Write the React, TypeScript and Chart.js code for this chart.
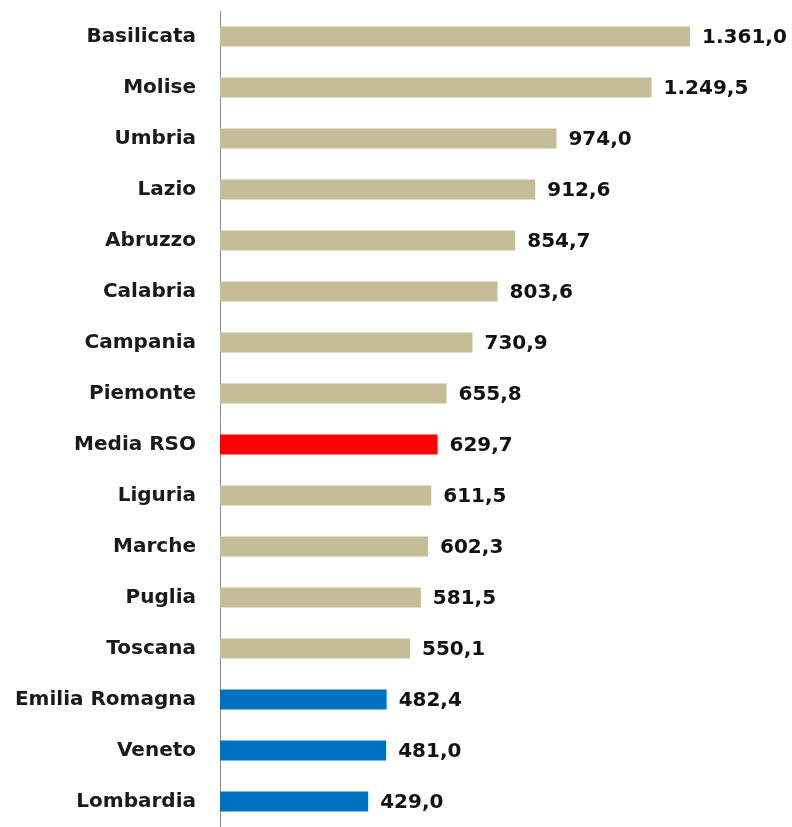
import React, { useEffect, useRef } from "react";
import { Chart, registerables } from "chart.js";

Chart.register(...registerables);

const categories = [
  "Basilicata", "Molise", "Umbria", "Lazio", "Abruzzo", "Calabria", "Campania",
  "Piemonte", "Media RSO", "Liguria", "Marche", "Puglia", "Toscana",
  "Emilia Romagna", "Veneto", "Lombardia",
];
const values = [
  1361.0, 1249.5, 974.0, 912.6, 854.7, 803.6, 730.9, 655.8, 629.7, 611.5,
  602.3, 581.5, 550.1, 482.4, 481.0, 429.0,
];
const groups = [
  "base", "base", "base", "base", "base", "base", "base", "base", "media",
  "base", "base", "base", "base", "low", "low", "low",
];
const groupColors: Record<string, string> = {
  base: "#C4BD97",
  media: "#FF0000",
  low: "#0070C0",
};

function fmt(v: number): string {
  const s = v.toFixed(1);
  const [intPart, dec] = s.split(".");
  const withDots = intPart.replace(/\B(?=(\d{3})+(?!\d))/g, ".");
  return withDots + "," + dec;
}

const FONT = "'DejaVu Sans', Verdana, sans-serif";

const valueLabels = {
  id: "valueLabels",
  afterDatasetsDraw(chart: any) {
    const ctx = chart.ctx;
    const meta = chart.getDatasetMeta(0);
    ctx.save();
    ctx.font = "bold 20px " + FONT;
    ctx.fillStyle = "#111";
    ctx.textAlign = "left";
    ctx.textBaseline = "middle";
    meta.data.forEach((bar: any, i: number) => {
      ctx.fillText(fmt(values[i]), bar.x + 12, bar.y + 1);
    });
    ctx.restore();
  },
};

export default function App() {
  const ref = useRef<HTMLCanvasElement | null>(null);
  useEffect(() => {
    document.body.style.margin = "0";
    const chart = new Chart(ref.current as HTMLCanvasElement, {
      type: "bar",
      data: {
        labels: categories,
        datasets: [
          {
            data: values,
            backgroundColor: groups.map((g) => groupColors[g]),
            barPercentage: 0.8,
            categoryPercentage: 0.49,
          },
        ],
      },
      options: {
        indexAxis: "y",
        animation: false,
        responsive: false,
        maintainAspectRatio: false,
        layout: { padding: { top: 11, bottom: 0, right: 0, left: 0 } },
        plugins: { legend: { display: false }, tooltip: { enabled: false } },
        scales: {
          x: {
            display: false,
            min: 0,
            max: 1656,
          },
          y: {
            grid: { display: false, drawTicks: false },
            border: { display: true, color: "#8c8c8c", width: 1 },
            ticks: {
              padding: 24,
              color: "#1a1a1a",
              font: { family: FONT, size: 20, weight: "bold" },
            },
            afterFit(scale: any) {
              scale.width = 220;
              scale.paddingTop = 0;
              scale.paddingBottom = 0;
            },
          },
        },
      },
      plugins: [valueLabels],
    });
    return () => chart.destroy();
  }, []);
  return (
    <div style={{ width: 792, height: 827, background: "#fff" }}>
      <canvas ref={ref} width={792} height={827} />
    </div>
  );
}
